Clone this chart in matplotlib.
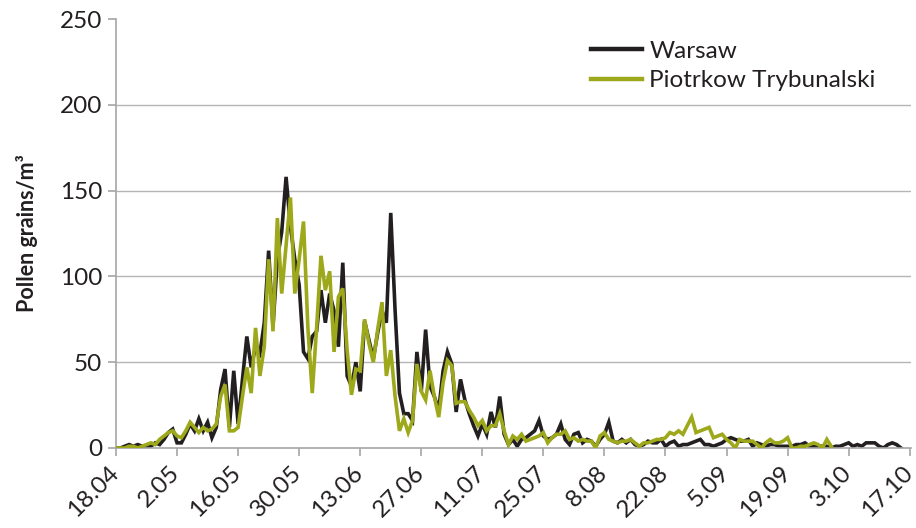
import numpy as np
import matplotlib
matplotlib.use("Agg")
import matplotlib.pyplot as plt
from matplotlib.transforms import ScaledTranslation

plt.rcParams['font.family'] = ['Lato', 'DejaVu Sans']

# daily pollen counts, day 0 = 18.04
warsaw = [0, 0, 1, 2, 1, 2, 1, 0, 1, 3,
          2, 5, 9, 11, 3, 3, 8, 14, 10, 17,
          10, 15, 6, 12, 34, 46, 12, 45, 14, 40,
          65, 47, 59, 55, 73, 115, 71, 110, 126, 158,
          129, 110, 95, 56, 52, 65, 68, 92, 73, 90,
          80, 59, 108, 42, 36, 50, 33, 74, 63, 52,
          67, 80, 73, 137, 80, 32, 20, 20, 16, 56,
          33, 69, 36, 30, 22, 45, 56, 49, 21, 40,
          28, 20, 13, 7, 14, 8, 21, 12, 30, 8,
          2, 5, 1, 5, 6, 8, 10, 16, 7, 5,
          6, 8, 14, 5, 2, 8, 9, 3, 5, 4,
          1, 5, 8, 15, 4, 3, 5, 3, 5, 2,
          1, 2, 4, 3, 3, 5, 1, 3, 4, 1,
          2, 2, 3, 4, 5, 2, 2, 1, 2, 3,
          5, 6, 5, 4, 4, 5, 1, 3, 2, 1,
          2, 2, 1, 1, 1, 1, 2, 2, 3, 1,
          1, 1, 1, 1, 0, 1, 1, 2, 3, 1,
          2, 1, 3, 3, 3, 1, 0, 2, 3, 2,
          0]

piotrkow = [0, 0, 0, 1, 1, 0, 1, 2, 3, 2,
            5, 7, 9, 10, 7, 6, 10, 15, 12, 9,
            12, 10, 11, 14, 30, 37, 10, 10, 12, 30,
            47, 32, 70, 42, 59, 110, 68, 134, 90, 118,
            146, 90, 110, 132, 70, 32, 70, 112, 92, 103,
            56, 88, 93, 57, 31, 46, 45, 75, 61, 50,
            69, 85, 42, 57, 30, 10, 17, 9, 16, 49,
            33, 28, 45, 30, 18, 38, 51, 48, 26, 27,
            27, 22, 18, 13, 16, 10, 13, 13, 20, 10,
            2, 7, 5, 8, 4, 5, 6, 7, 9, 3,
            6, 8, 8, 10, 5, 6, 4, 5, 4, 4,
            0, 7, 9, 5, 4, 3, 4, 4, 5, 3,
            1, 3, 3, 4, 5, 5, 6, 9, 8, 10,
            8, 13, 18, 9, 10, 11, 12, 6, 7, 8,
            5, 3, 0, 5, 4, 4, 4, 2, 0, 3,
            5, 3, 3, 4, 6, 0, 0, 1, 1, 2,
            3, 2, 0, 5, 1]

tick_labels = ["18.04", "2.05", "16.05", "30.05", "13.06", "27.06", "11.07",
               "25.07", "8.08", "22.08", "5.09", "19.09", "3.10", "17.10"]
y_ticks = [0, 50, 100, 150, 200, 250]

text_col = '#231f20'
axis_col = '#a6a6a6'

fig = plt.figure(figsize=(9.16, 5.28), dpi=100)
ax = fig.add_axes([116 / 916, 80 / 528, 795 / 916, 429 / 528])

# horizontal gridlines (none at the top)
for yv in y_ticks[1:-1]:
    ax.axhline(yv, color='#b5b5b5', lw=1.0, zorder=0)

ax.plot(np.arange(len(warsaw)), warsaw, color='#231f20', lw=2.6,
        solid_joinstyle='miter', label='Warsaw', zorder=2)
ax.plot(np.arange(len(piotrkow)), piotrkow, color='#9da81b', lw=2.6,
        solid_joinstyle='miter', label='Piotrkow Trybunalski', zorder=3)

ax.set_xlim(0, 182.3)
ax.set_ylim(0, 250)
ax.set_yticks(y_ticks)
ax.set_xticks(np.arange(len(tick_labels)) * 14)
ax.set_xticklabels(tick_labels, rotation=45, ha='right', rotation_mode='anchor')

for side in ['top', 'right']:
    ax.spines[side].set_visible(False)
for side in ['left', 'bottom']:
    ax.spines[side].set_color(axis_col)
    ax.spines[side].set_linewidth(1.2)
ax.tick_params(axis='both', colors=axis_col, length=6, width=1.2,
               labelcolor=text_col, labelsize=17.5)
ax.tick_params(axis='x', pad=5)
ax.tick_params(axis='y', pad=4)

# nudge the rotated date labels a little to the left
shift = ScaledTranslation(-8 / 100, 1 / 100, fig.dpi_scale_trans)
for lbl in ax.get_xticklabels():
    lbl.set_transform(lbl.get_transform() + shift)

ax.set_ylabel('Pollen grains/m³', fontsize=15.5, fontweight='bold',
              color=text_col, labelpad=16)

leg = ax.legend(loc='upper left', bbox_to_anchor=(0.57, 1.0), frameon=False,
                fontsize=17.5, handlelength=2.1, handletextpad=0.3,
                labelspacing=0.35, labelcolor=text_col)
for h in leg.get_lines():
    h.set_linewidth(3.2)

fig.savefig('out.png', dpi=100)
